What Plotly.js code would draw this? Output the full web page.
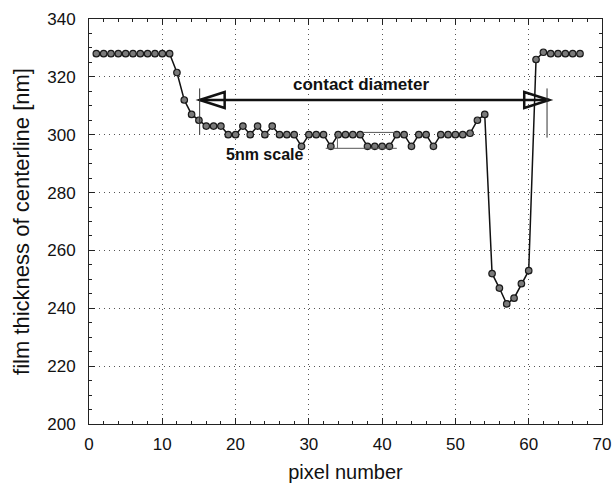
<!DOCTYPE html>
<html>
<head>
<meta charset="utf-8">
<script src="https://cdn.plot.ly/plotly-3.0.1.min.js"></script>
<style>html,body{margin:0;padding:0;background:#fff;}#chart{width:614px;height:486px;}</style>
</head>
<body>
<div id="chart"></div>
<script>
var pixelNumber = [1,2,3,4,5,6,7,8,9,10,11,12,13,14,15,16,17,18,19,20,21,22,23,24,25,26,27,28,29,30,31,32,33,34,35,36,37,38,39,40,41,42,43,44,45,46,47,48,49,50,51,52,53,54,55,56,57,58,59,60,61,62,63,64,65,66,67];
var filmThickness = [328,328,328,328,328,328,328,328,328,328,328,321.5,312,307,305,303,303,303,300,300,303,300,303,300,303,300,300,300,296,300,300,300,296,300,300,300,300,296,296,296,296,300,300,296,300,300,296,300,300,300,300,300.5,305,307,252,247,241.5,243.5,248.5,253,326,328.5,328,328,328,328,328];
var xTicks = [0,10,20,30,40,50,60,70];
var yTicks = [200,220,240,260,280,300,320,340];

var FONT = 'Liberation Sans, Arial, sans-serif';

var trace = {
  x: pixelNumber, y: filmThickness, type: 'scatter', mode: 'lines+markers',
  line: {color: '#111', width: 1.5},
  marker: {size: 6.5, color: '#7a7a7a', line: {color: '#1a1a1a', width: 1.2}},
  hoverinfo: 'skip'
};

var axisCommon = {
  showline: true, linecolor: '#222', linewidth: 1, mirror: 'ticks',
  ticks: 'inside', ticklen: 6, tickcolor: '#222', tickwidth: 1,
  showgrid: true, gridcolor: '#555', griddash: '1px,4px', gridwidth: 1,
  zeroline: false, tickfont: {family: FONT, size: 17, color: '#111'}
};

var layout = {
  width: 614, height: 486,
  margin: {l: 89, r: 12, t: 19, b: 62},
  paper_bgcolor: '#fff', plot_bgcolor: '#fff',
  showlegend: false,
  xaxis: Object.assign({}, axisCommon, {
    range: [0, 70], tickvals: xTicks, ticktext: xTicks.map(String),
    ticklabelstandoff: 5,
    minor: {dtick: 2, ticks: 'inside', ticklen: 3, tickcolor: '#222', showgrid: false},
    title: {text: 'pixel number', font: {family: FONT, size: 20, color: '#111'}, standoff: 11}
  }),
  yaxis: Object.assign({}, axisCommon, {
    range: [200, 340], tickvals: yTicks, ticktext: yTicks.map(String),
    ticklabelstandoff: 9,
    minor: {dtick: 5, ticks: 'inside', ticklen: 3, tickcolor: '#222', showgrid: false},
    title: {text: 'film thickness of centerline [nm]', font: {family: FONT, size: 22, color: '#111'}, standoff: 11}
  }),
  shapes: [
    {type: 'line', xref: 'x', yref: 'y', x0: 15.1, x1: 62.8, y0: 312, y1: 312, line: {color: '#111', width: 2.5}},
    {type: 'path', xref: 'x', yref: 'y', xsizemode: 'pixel', ysizemode: 'pixel', xanchor: 15.1, yanchor: 312,
     path: 'M0,0 L25,8 L25,-8 Z', line: {color: '#111', width: 2.5}, fillcolor: 'rgba(0,0,0,0)'},
    {type: 'path', xref: 'x', yref: 'y', xsizemode: 'pixel', ysizemode: 'pixel', xanchor: 62.8, yanchor: 312,
     path: 'M0,0 L-25,8 L-25,-8 Z', line: {color: '#111', width: 2.5}, fillcolor: 'rgba(0,0,0,0)'},
    {type: 'line', xref: 'x', yref: 'y', x0: 15.1, x1: 15.1, y0: 300, y1: 316, line: {color: '#333', width: 1}},
    {type: 'line', xref: 'x', yref: 'y', x0: 62.5, x1: 62.5, y0: 299, y1: 316, line: {color: '#333', width: 1}},
    {type: 'line', xref: 'x', yref: 'y', x0: 37.4, x1: 42, y0: 300.8, y1: 300.8, line: {color: '#555', width: 1}},
    {type: 'line', xref: 'x', yref: 'y', x0: 32.3, x1: 42, y0: 295.3, y1: 295.3, line: {color: '#555', width: 1}},
    {type: 'line', xref: 'x', yref: 'y', x0: 33.9, x1: 33.9, y0: 295.3, y1: 300, line: {color: '#666', width: 1}}
  ],
  annotations: [
    {x: 37.1, y: 317.2, xref: 'x', yref: 'y', text: '<b>contact diameter</b>', showarrow: false,
     font: {family: FONT, size: 17, color: '#111'}},
    {x: 24, y: 293, xref: 'x', yref: 'y', text: '<b>5nm scale</b>', showarrow: false,
     font: {family: FONT, size: 16, color: '#111'}}
  ]
};

Plotly.newPlot('chart', [trace], layout, {displayModeBar: false, staticPlot: true});
</script>
</body>
</html>
